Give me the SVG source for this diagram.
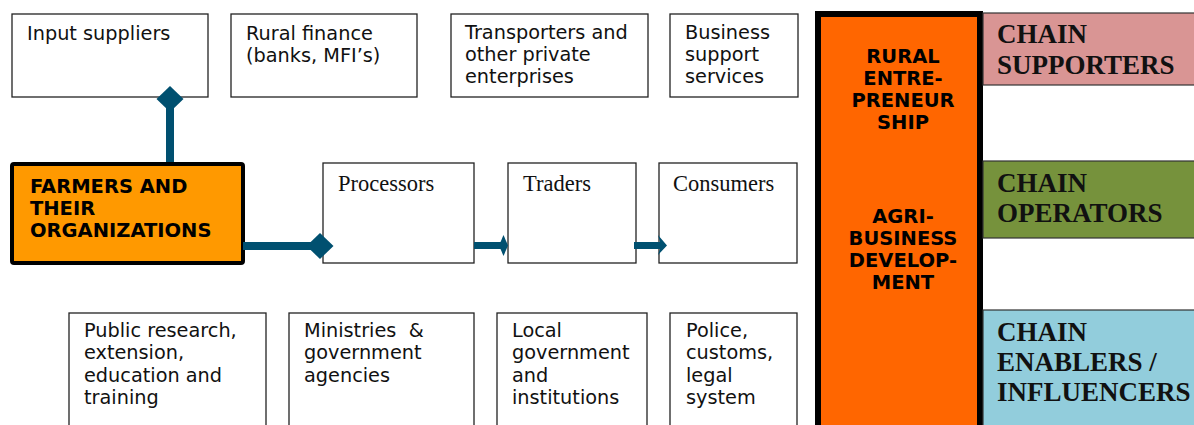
<svg xmlns="http://www.w3.org/2000/svg" width="1194" height="425" viewBox="0 0 1194 425">
<style>
.box{fill:#fff;stroke:#222;stroke-width:1.3}
.t{font-family:"DejaVu Sans",Verdana,sans-serif;font-size:19.3px;fill:#111}
.tb{font-family:"DejaVu Sans",Verdana,sans-serif;font-size:19.5px;font-weight:bold;fill:#000}
.ts{font-family:"Liberation Serif","Times New Roman",serif;font-size:22.5px;fill:#111}
.tc{font-family:"Liberation Serif","Times New Roman",serif;font-size:27px;font-weight:bold;fill:#111}
.band{stroke:#333;stroke-width:1.2}
.conn{fill:#005070;stroke:none}
</style>
<rect width="1194" height="425" fill="#fff"/>
<g id="input-suppliers"><rect class="box" x="12" y="14" width="196" height="83"/><text class="t" x="27" y="40">Input suppliers</text></g>
<g id="rural-finance"><rect class="box" x="231" y="14" width="186" height="83"/><text class="t" x="246" y="40">Rural finance</text><text class="t" x="246" y="62">(banks, MFI’s)</text></g>
<g id="transporters"><rect class="box" x="451" y="14" width="197" height="83"/><text class="t" x="465" y="39">Transporters and</text><text class="t" x="465" y="61">other private</text><text class="t" x="465" y="83">enterprises</text></g>
<g id="business-support"><rect class="box" x="670" y="14" width="128" height="83"/><text class="t" x="685" y="39">Business</text><text class="t" x="685" y="61">support</text><text class="t" x="685" y="83">services</text></g>
<g id="farmers"><rect x="12" y="164" width="231" height="99" rx="2" fill="#FF9900" stroke="#000" stroke-width="4"/><text class="tb" x="30" y="193">FARMERS AND</text><text class="tb" x="30" y="215">THEIR</text><text class="tb" x="30" y="237">ORGANIZATIONS</text></g>
<g id="processors"><rect class="box" x="323" y="163" width="151" height="100"/><text class="ts" x="338" y="191">Processors</text></g>
<g id="traders"><rect class="box" x="508" y="163" width="128" height="100"/><text class="ts" x="523" y="191">Traders</text></g>
<g id="consumers"><rect class="box" x="659" y="163" width="138" height="100"/><text class="ts" x="673" y="191">Consumers</text></g>
<g id="public-research"><rect class="box" x="69" y="313" width="197" height="125"/><text class="t" x="84" y="337">Public research,</text><text class="t" x="84" y="359">extension,</text><text class="t" x="84" y="382">education and</text><text class="t" x="84" y="404">training</text></g>
<g id="ministries"><rect class="box" x="289" y="313" width="185" height="125"/><text class="t" x="304" y="337" xml:space="preserve">Ministries  &amp;</text><text class="t" x="304" y="359">government</text><text class="t" x="304" y="382">agencies</text></g>
<g id="local-government"><rect class="box" x="497" y="313" width="150" height="125"/><text class="t" x="512" y="337">Local</text><text class="t" x="512" y="359">government</text><text class="t" x="512" y="382">and</text><text class="t" x="512" y="404">institutions</text></g>
<g id="police"><rect class="box" x="670" y="313" width="127" height="125"/><text class="t" x="686" y="337">Police,</text><text class="t" x="686" y="359">customs,</text><text class="t" x="686" y="382">legal</text><text class="t" x="686" y="404">system</text></g>
<g id="rural-entrepreneurship"><rect x="818" y="14" width="162" height="420" fill="#FF6600" stroke="#000" stroke-width="6"/>
<g text-anchor="middle"><text class="tb" x="903" y="63">RURAL</text><text class="tb" x="903" y="85">ENTRE-</text><text class="tb" x="903" y="107">PRENEUR</text><text class="tb" x="903" y="129">SHIP</text>
<text class="tb" x="903" y="223">AGRI-</text><text class="tb" x="903" y="245">BUSINESS</text><text class="tb" x="903" y="267">DEVELOP-</text><text class="tb" x="903" y="289">MENT</text></g></g>
<g id="chain-supporters"><rect class="band" x="983" y="13" width="215" height="72" fill="#D99594"/><text class="tc" x="997" y="43">CHAIN</text><text class="tc" x="997" y="74">SUPPORTERS</text></g>
<g id="chain-operators"><rect class="band" x="983" y="161" width="215" height="77" fill="#76923C"/><text class="tc" x="997" y="192">CHAIN</text><text class="tc" x="997" y="222">OPERATORS</text></g>
<g id="chain-enablers"><rect class="band" x="983" y="310" width="215" height="120" fill="#92CDDC"/><text class="tc" x="997" y="341">CHAIN</text><text class="tc" x="997" y="371">ENABLERS /</text><text class="tc" x="997" y="401">INFLUENCERS</text></g>
<g id="connectors">
<rect class="conn" x="166" y="99" width="8" height="63"/>
<polygon class="conn" points="170,86 183.5,99 170,112 156.5,99"/>
<rect class="conn" x="243" y="242" width="77" height="8"/>
<polygon class="conn" points="320,233 333.5,246 320,259 306.5,246"/>
<rect class="conn" x="474" y="242" width="30" height="7"/>
<polygon class="conn" points="503.5,235 508,245.5 503.5,256 499,245.5"/>
<rect class="conn" x="634" y="242" width="28" height="7"/>
<polygon class="conn" points="658,235 667,245.5 658,255 661,245.5"/>
</g>
</svg>
